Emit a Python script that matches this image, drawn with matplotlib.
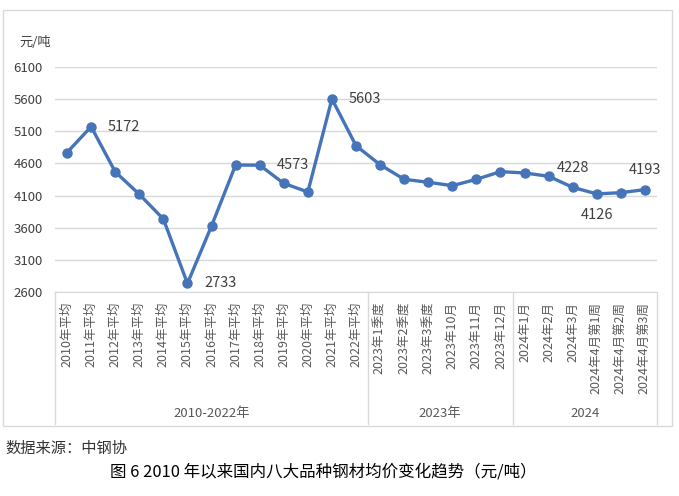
import matplotlib
matplotlib.use("Agg")
import matplotlib.pyplot as plt
import matplotlib.transforms as mtransforms
from matplotlib.patches import Rectangle
import numpy as np

plt.rcParams['font.family'] = ['Noto Sans CJK SC', 'DejaVu Sans']

# data
categories = ["2010年平均", "2011年平均", "2012年平均", "2013年平均", "2014年平均",
              "2015年平均", "2016年平均", "2017年平均", "2018年平均", "2019年平均",
              "2020年平均", "2021年平均", "2022年平均",
              "2023年1季度", "2023年2季度", "2023年3季度", "2023年10月", "2023年11月", "2023年12月",
              "2024年1月", "2024年2月", "2024年3月", "2024年4月第1周", "2024年4月第2周", "2024年4月第3周"]
prices = [4770, 5172, 4470, 4120, 3736, 2733, 3627, 4575, 4573, 4290, 4156, 5603, 4876,
          4580, 4353, 4307, 4254, 4353, 4472, 4452, 4400, 4228, 4126, 4145, 4193]
groups = ["2010-2022年", "2023年", "2024"]
group_sizes = [13, 6, 6]
labelled = [1, 5, 8, 11, 21, 22, 24]

W, H = 679, 496
fig = plt.figure(figsize=(W / 100, H / 100), dpi=100)
ax = fig.add_axes([55 / W, 1 - 292 / H, (657 - 55) / W, (292 - 67) / H])

grey = '#D9D9D9'
txt = '#595959'
blue = '#4674B8'

x = np.arange(len(prices))
ax.plot(x, prices, color=blue, lw=2.4, marker='o', ms=6.5, zorder=3, clip_on=False)

ax.set_xlim(-0.5, len(prices) - 0.5)
ax.set_ylim(2600, 6100)
ax.set_yticks(np.arange(2600, 6101, 500))
ax.tick_params(axis='y', length=0, pad=9, labelsize=9.5, labelcolor='#404040')
ax.yaxis.grid(True, color=grey, lw=1)
ax.set_axisbelow(True)
for s in ['top', 'right', 'left']:
    ax.spines[s].set_visible(False)
ax.spines['bottom'].set_color(grey)

ax.set_xticks(x)
ax.set_xticklabels(categories, rotation=90, fontsize=9, color=txt)
ax.tick_params(axis='x', length=0, pad=7)

# multi-level category axis lines
trans = mtransforms.blended_transform_factory(ax.transData, ax.transAxes)
bottom = -(424 - 292) / (292 - 67)
edges = np.concatenate([[0], np.cumsum(group_sizes)]) - 0.5
for e in edges:
    ax.plot([e, e], [0, bottom], color=grey, lw=1, transform=trans, clip_on=False)
label_y = -(413 - 292) / (292 - 67)
for i, g in enumerate(groups):
    ax.text((edges[i] + edges[i + 1]) / 2, label_y, g, transform=trans,
            ha='center', va='center', fontsize=9.5, color=txt)

# data labels
offsets = {1: (12, 0, 'left'), 5: (12, 0, 'left'), 8: (12, 0, 'left'), 11: (12, 0, 'left'),
           21: (0, 14, 'center'), 22: (0, -15, 'center'), 24: (0, 14, 'center')}
for i in labelled:
    dx, dy, ha = offsets[i]
    ax.annotate(str(prices[i]), (x[i], prices[i]), xytext=(dx, dy), textcoords='offset points',
                ha=ha, va='center', fontsize=10.5, color='#404040')

fig.text(19 / W, 1 - 43 / H, "元/吨", ha='left', va='center', fontsize=9.5, color='#404040')

# chart border
fig.patches.append(Rectangle((3 / W, 1 - 426 / H), (672 - 3) / W, (426 - 10) / H,
                             transform=fig.transFigure, fill=False, edgecolor=grey, lw=1))

fig.text(5 / W, 1 - 448 / H, "数据来源：中钢协", ha='left', va='center', fontsize=11, color='#333333')
fig.text(323 / W, 1 - 472 / H, "图 6 2010 年以来国内八大品种钢材均价变化趋势（元/吨）",
         ha='center', va='center', fontsize=11.9, color='black')

fig.savefig("out.png", dpi=100)
